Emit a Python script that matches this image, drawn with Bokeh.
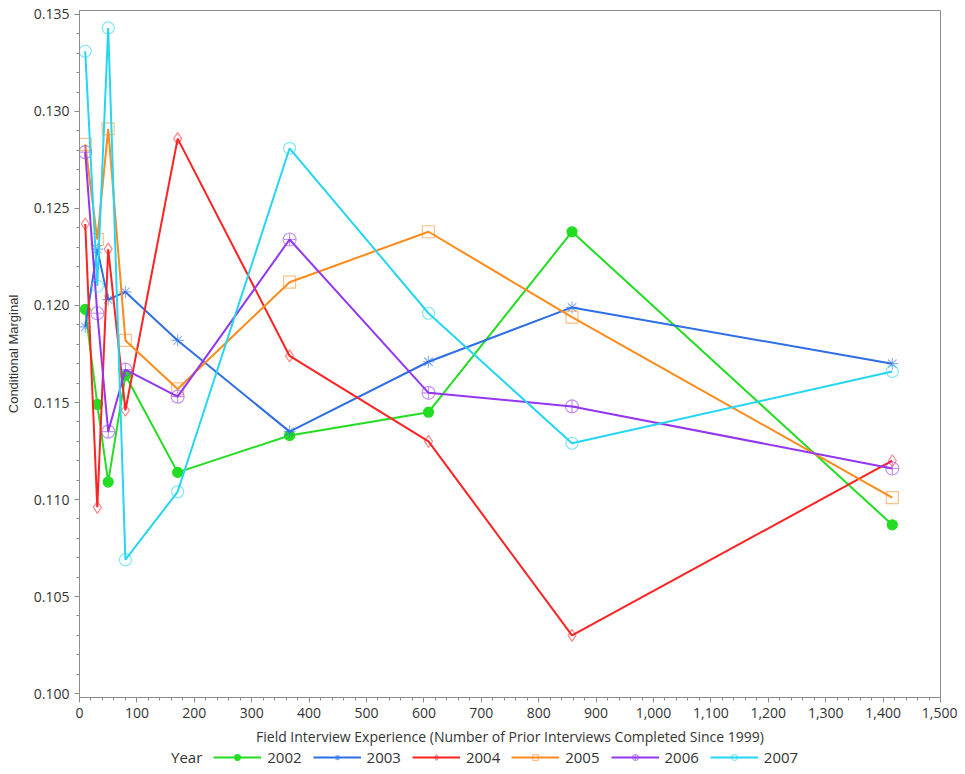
from bokeh.plotting import figure
from bokeh.layouts import column
from bokeh.models import (Legend, LegendItem, SingleIntervalTicker, NumeralTickFormatter,
                          Range1d)
from bokeh.embed import file_html
from bokeh.resources import INLINE

# Data
experience = [10, 31, 50, 80, 171, 366, 608, 858, 1416]
years = ["2002", "2003", "2004", "2005", "2006", "2007"]
y2002 = [0.1198, 0.1149, 0.1109, 0.1164, 0.1114, 0.1133, 0.1145, 0.1238, 0.1087]
y2003 = [0.1189, 0.1229, 0.1203, 0.1207, 0.1182, 0.1135, 0.1171, 0.1199, 0.1170]
y2004 = [0.1242, 0.1096, 0.1229, 0.1146, 0.1286, 0.1174, 0.1130, 0.1030, 0.1120]
y2005 = [0.1283, 0.1234, 0.1291, 0.1182, 0.1157, 0.1212, 0.1238, 0.1194, 0.1101]
y2006 = [0.1279, 0.1196, 0.1135, 0.1167, 0.1153, 0.1234, 0.1155, 0.1148, 0.1116]
y2007 = [0.1331, 0.1210, 0.1343, 0.1069, 0.1104, 0.1281, 0.1196, 0.1129, 0.1166]
series = [y2002, y2003, y2004, y2005, y2006, y2007]

line_colors = ["#22dd22", "#2e6ee6", "#ff2222", "#ff8a1c", "#9436f0", "#24d6f2"]
markers = ["circle", "asterisk", "diamond", "square", "circle_cross", "circle"]
marker_sizes = [10, 12, 12, 12, 13, 12]
filled = [True, False, False, False, False, False]

font = "Open Sans"
txt = "#333333"

p = figure(frame_width=861, frame_height=687, output_backend="svg", toolbar_location=None,
           x_range=Range1d(0, 1500), y_range=Range1d(0.0998, 0.1352),
           min_border_left=79, min_border_right=17, min_border_top=10, min_border_bottom=0)
p.background_fill_color = "white"
p.outline_line_color = "#8c8c8c"
p.outline_line_width = 1
p.xgrid.visible = False
p.ygrid.visible = False

p.xaxis.ticker = SingleIntervalTicker(interval=100, num_minor_ticks=5)
p.yaxis.ticker = SingleIntervalTicker(interval=0.005, num_minor_ticks=5)
p.xaxis.formatter = NumeralTickFormatter(format="0,0")
p.yaxis.formatter = NumeralTickFormatter(format="0.000")
p.xaxis.axis_label = "Field Interview Experience (Number of Prior Interviews Completed Since 1999)"
p.yaxis.axis_label = "Conditional Marginal"
for ax in (p.xaxis[0], p.yaxis[0]):
    ax.axis_line_color = "#8c8c8c"
    ax.major_tick_line_color = "#8c8c8c"
    ax.minor_tick_line_color = "#8c8c8c"
    ax.major_tick_out = 5
    ax.major_tick_in = 0
    ax.minor_tick_out = 3
    ax.minor_tick_in = 0
    ax.major_label_text_font = font
    ax.major_label_text_font_size = "14px"
    ax.major_label_text_color = txt
    ax.axis_label_text_color = txt
    ax.axis_label_text_font_style = "normal"
p.xaxis.axis_label_text_font = font
p.xaxis.axis_label_text_font_size = "14px"
p.xaxis.axis_label_standoff = 6
p.yaxis.axis_label_text_font = "Liberation Sans"
p.yaxis.axis_label_text_font_size = "13px"
p.yaxis.axis_label_standoff = 10

for i, yr in enumerate(years):
    c = line_colors[i]
    p.line(experience, series[i], line_color=c, line_width=2)
    p.scatter(experience, series[i], marker=markers[i], size=marker_sizes[i],
              line_color=c, line_alpha=0.55 if not filled[i] else 1.0,
              line_width=1.2,
              fill_color=c if filled[i] else None,
              fill_alpha=1.0 if filled[i] else 0.0)

# Legend strip below the chart (key glyphs only; the placeholder point is NaN, never drawn)
nan = float("nan")
lg = figure(width=957, height=24, output_backend="svg", toolbar_location=None,
            x_axis_type=None, y_axis_type=None,
            x_range=Range1d(0, 1), y_range=Range1d(0, 1), min_border=0)
lg.grid.visible = False
lg.outline_line_color = None
heading = lg.line([nan], [nan], line_alpha=0)
items = [LegendItem(label="Year", renderers=[heading])]
for i, yr in enumerate(years):
    c = line_colors[i]
    ln = lg.line([nan], [nan], line_color=c, line_width=2)
    sc = lg.scatter([nan], [nan], marker=markers[i], size=marker_sizes[i],
                    line_color=c, line_alpha=0.55 if not filled[i] else 1.0,
                    line_width=1.2,
                    fill_color=c if filled[i] else None,
                    fill_alpha=1.0 if filled[i] else 0.0)
    items.append(LegendItem(label=yr, renderers=[ln, sc]))

legend = Legend(items=items, orientation="horizontal", location=(38, 5))
legend.label_text_font = font
legend.label_text_font_size = "15px"
legend.label_text_color = txt
legend.label_height = 14
legend.glyph_width = 48
legend.glyph_height = 14
legend.label_standoff = 6
legend.spacing = 11
legend.padding = 0
legend.margin = 0
legend.border_line_color = None
legend.background_fill_alpha = 0
lg.add_layout(legend, "center")

layout = column(p, lg, spacing=0)
open("out.html", "w").write(file_html(layout, INLINE))
